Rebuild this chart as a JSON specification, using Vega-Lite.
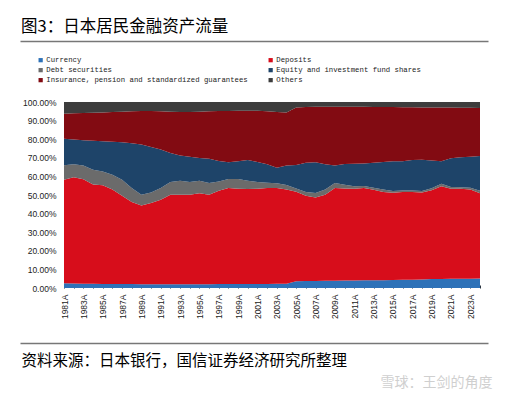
{
  "$schema": "https://vega.github.io/schema/vega-lite/v6.json",
  "width": 416,
  "height": 186,
  "autosize": {"type": "none"},
  "padding": {"left": 64, "top": 102, "right": 28, "bottom": 108},
  "background": "#ffffff",
  "config": {"view": {"stroke": null}, "axis": {"grid": false}},
  "title": {
    "text": "图3：日本居民金融资产流量",
    "anchor": "start",
    "frame": "group",
    "dx": -43,
    "offset": 6,
    "font": "Noto Sans CJK SC",
    "fontSize": 16.5,
    "fontWeight": "normal",
    "color": "#000000"
  },
  "datasets": {
    "assets": [
      {"year": 1981, "Currency": 2.5, "Deposits": 55.7, "Debt securities": 7.8, "Equity and investment fund shares": 14.3, "Insurance, pension and standardized guarantees": 13.4, "Others": 6.3},
      {"year": 1982, "Currency": 2.4, "Deposits": 57.1, "Debt securities": 7.0, "Equity and investment fund shares": 13.3, "Insurance, pension and standardized guarantees": 14.1, "Others": 6.1},
      {"year": 1983, "Currency": 2.3, "Deposits": 56.2, "Debt securities": 7.3, "Equity and investment fund shares": 13.6, "Insurance, pension and standardized guarantees": 14.7, "Others": 5.9},
      {"year": 1984, "Currency": 2.3, "Deposits": 53.3, "Debt securities": 8.0, "Equity and investment fund shares": 15.5, "Insurance, pension and standardized guarantees": 15.1, "Others": 5.8},
      {"year": 1985, "Currency": 2.2, "Deposits": 53.0, "Debt securities": 7.5, "Equity and investment fund shares": 16.2, "Insurance, pension and standardized guarantees": 15.5, "Others": 5.6},
      {"year": 1986, "Currency": 2.2, "Deposits": 50.7, "Debt securities": 8.0, "Equity and investment fund shares": 17.7, "Insurance, pension and standardized guarantees": 16.0, "Others": 5.4},
      {"year": 1987, "Currency": 2.1, "Deposits": 47.5, "Debt securities": 8.6, "Equity and investment fund shares": 20.1, "Insurance, pension and standardized guarantees": 16.5, "Others": 5.2},
      {"year": 1988, "Currency": 2.1, "Deposits": 44.1, "Debt securities": 7.6, "Equity and investment fund shares": 24.0, "Insurance, pension and standardized guarantees": 17.2, "Others": 5.0},
      {"year": 1989, "Currency": 2.0, "Deposits": 42.3, "Debt securities": 5.9, "Equity and investment fund shares": 26.9, "Insurance, pension and standardized guarantees": 18.1, "Others": 4.8},
      {"year": 1990, "Currency": 2.0, "Deposits": 43.7, "Debt securities": 5.7, "Equity and investment fund shares": 24.4, "Insurance, pension and standardized guarantees": 19.4, "Others": 4.8},
      {"year": 1991, "Currency": 2.0, "Deposits": 45.5, "Debt securities": 6.3, "Equity and investment fund shares": 20.6, "Insurance, pension and standardized guarantees": 20.6, "Others": 5.0},
      {"year": 1992, "Currency": 2.0, "Deposits": 48.2, "Debt securities": 6.8, "Equity and investment fund shares": 15.6, "Insurance, pension and standardized guarantees": 22.2, "Others": 5.2},
      {"year": 1993, "Currency": 2.0, "Deposits": 48.2, "Debt securities": 7.5, "Equity and investment fund shares": 13.6, "Insurance, pension and standardized guarantees": 23.3, "Others": 5.4},
      {"year": 1994, "Currency": 2.0, "Deposits": 48.2, "Debt securities": 6.8, "Equity and investment fund shares": 13.5, "Insurance, pension and standardized guarantees": 24.1, "Others": 5.4},
      {"year": 1995, "Currency": 2.0, "Deposits": 49.0, "Debt securities": 6.7, "Equity and investment fund shares": 12.2, "Insurance, pension and standardized guarantees": 24.9, "Others": 5.2},
      {"year": 1996, "Currency": 2.0, "Deposits": 48.2, "Debt securities": 6.3, "Equity and investment fund shares": 13.0, "Insurance, pension and standardized guarantees": 25.5, "Others": 5.0},
      {"year": 1997, "Currency": 2.1, "Deposits": 50.2, "Debt securities": 5.0, "Equity and investment fund shares": 11.0, "Insurance, pension and standardized guarantees": 26.8, "Others": 4.9},
      {"year": 1998, "Currency": 2.1, "Deposits": 51.7, "Debt securities": 4.8, "Equity and investment fund shares": 9.0, "Insurance, pension and standardized guarantees": 27.6, "Others": 4.8},
      {"year": 1999, "Currency": 2.1, "Deposits": 51.3, "Debt securities": 5.2, "Equity and investment fund shares": 9.5, "Insurance, pension and standardized guarantees": 27.2, "Others": 4.7},
      {"year": 2000, "Currency": 2.2, "Deposits": 51.0, "Debt securities": 4.5, "Equity and investment fund shares": 11.1, "Insurance, pension and standardized guarantees": 26.5, "Others": 4.7},
      {"year": 2001, "Currency": 2.2, "Deposits": 51.2, "Debt securities": 3.6, "Equity and investment fund shares": 10.7, "Insurance, pension and standardized guarantees": 27.6, "Others": 4.7},
      {"year": 2002, "Currency": 2.2, "Deposits": 51.6, "Debt securities": 2.8, "Equity and investment fund shares": 9.9, "Insurance, pension and standardized guarantees": 28.5, "Others": 5.0},
      {"year": 2003, "Currency": 2.3, "Deposits": 51.5, "Debt securities": 2.5, "Equity and investment fund shares": 8.4, "Insurance, pension and standardized guarantees": 29.9, "Others": 5.4},
      {"year": 2004, "Currency": 2.3, "Deposits": 50.7, "Debt securities": 2.4, "Equity and investment fund shares": 10.4, "Insurance, pension and standardized guarantees": 28.6, "Others": 5.6},
      {"year": 2005, "Currency": 3.6, "Deposits": 48.2, "Debt securities": 1.7, "Equity and investment fund shares": 12.6, "Insurance, pension and standardized guarantees": 31.0, "Others": 2.9},
      {"year": 2006, "Currency": 3.7, "Deposits": 45.9, "Debt securities": 2.0, "Equity and investment fund shares": 15.7, "Insurance, pension and standardized guarantees": 30.0, "Others": 2.7},
      {"year": 2007, "Currency": 3.8, "Deposits": 44.8, "Debt securities": 2.5, "Equity and investment fund shares": 16.5, "Insurance, pension and standardized guarantees": 29.8, "Others": 2.6},
      {"year": 2008, "Currency": 3.9, "Deposits": 46.3, "Debt securities": 2.8, "Equity and investment fund shares": 13.5, "Insurance, pension and standardized guarantees": 31.0, "Others": 2.5},
      {"year": 2009, "Currency": 3.9, "Deposits": 49.9, "Debt securities": 2.7, "Equity and investment fund shares": 9.4, "Insurance, pension and standardized guarantees": 31.6, "Others": 2.5},
      {"year": 2010, "Currency": 4.0, "Deposits": 49.5, "Debt securities": 2.0, "Equity and investment fund shares": 11.2, "Insurance, pension and standardized guarantees": 30.7, "Others": 2.6},
      {"year": 2011, "Currency": 4.0, "Deposits": 49.4, "Debt securities": 1.3, "Equity and investment fund shares": 12.1, "Insurance, pension and standardized guarantees": 30.6, "Others": 2.6},
      {"year": 2012, "Currency": 4.1, "Deposits": 49.7, "Debt securities": 1.0, "Equity and investment fund shares": 12.2, "Insurance, pension and standardized guarantees": 30.4, "Others": 2.6},
      {"year": 2013, "Currency": 4.1, "Deposits": 48.7, "Debt securities": 1.1, "Equity and investment fund shares": 13.5, "Insurance, pension and standardized guarantees": 29.9, "Others": 2.7},
      {"year": 2014, "Currency": 4.2, "Deposits": 47.4, "Debt securities": 1.3, "Equity and investment fund shares": 14.8, "Insurance, pension and standardized guarantees": 29.6, "Others": 2.7},
      {"year": 2015, "Currency": 4.3, "Deposits": 46.9, "Debt securities": 0.9, "Equity and investment fund shares": 16.0, "Insurance, pension and standardized guarantees": 29.2, "Others": 2.7},
      {"year": 2016, "Currency": 4.4, "Deposits": 47.2, "Debt securities": 0.8, "Equity and investment fund shares": 15.8, "Insurance, pension and standardized guarantees": 29.0, "Others": 2.8},
      {"year": 2017, "Currency": 4.5, "Deposits": 47.1, "Debt securities": 0.8, "Equity and investment fund shares": 16.4, "Insurance, pension and standardized guarantees": 28.4, "Others": 2.8},
      {"year": 2018, "Currency": 4.6, "Deposits": 46.8, "Debt securities": 0.8, "Equity and investment fund shares": 16.7, "Insurance, pension and standardized guarantees": 28.2, "Others": 2.9},
      {"year": 2019, "Currency": 4.8, "Deposits": 47.8, "Debt securities": 1.0, "Equity and investment fund shares": 14.9, "Insurance, pension and standardized guarantees": 28.6, "Others": 2.9},
      {"year": 2020, "Currency": 4.9, "Deposits": 49.8, "Debt securities": 1.3, "Equity and investment fund shares": 12.1, "Insurance, pension and standardized guarantees": 28.9, "Others": 3.0},
      {"year": 2021, "Currency": 5.0, "Deposits": 48.4, "Debt securities": 0.9, "Equity and investment fund shares": 15.4, "Insurance, pension and standardized guarantees": 27.3, "Others": 3.0},
      {"year": 2022, "Currency": 5.0, "Deposits": 48.4, "Debt securities": 0.8, "Equity and investment fund shares": 16.1, "Insurance, pension and standardized guarantees": 26.6, "Others": 3.1},
      {"year": 2023, "Currency": 5.0, "Deposits": 48.0, "Debt securities": 0.9, "Equity and investment fund shares": 16.7, "Insurance, pension and standardized guarantees": 26.3, "Others": 3.1},
      {"year": 2024, "Currency": 5.1, "Deposits": 45.9, "Debt securities": 1.3, "Equity and investment fund shares": 18.7, "Insurance, pension and standardized guarantees": 25.8, "Others": 3.2}
    ]
  },
  "layer": [
    {
      "data": {"name": "assets"},
      "transform": [
        {"fold": ["Currency", "Deposits", "Debt securities", "Equity and investment fund shares", "Insurance, pension and standardized guarantees", "Others"], "as": ["type", "share"]},
        {"window": [{"op": "row_number", "as": "k"}], "groupby": ["year"]}
      ],
      "mark": {"type": "area", "interpolate": "linear"},
      "encoding": {
        "x": {
          "field": "year",
          "type": "ordinal",
          "scale": {"type": "point", "padding": 0},
          "axis": {
            "orient": "bottom",
            "domain": false,
            "ticks": true,
            "tickSize": -3,
            "tickColor": "#2a3440",
            "tickWidth": 1,
            "labelAngle": -90,
            "labelFont": "Liberation Sans",
            "labelFontSize": 8.5,
            "labelColor": "#222222",
            "labelPadding": 9,
            "labelOverlap": false,
            "labelExpr": "datum.value % 2 == 1 ? datum.value + 'A' : ''",
            "title": "资料来源：日本银行，国信证券经济研究所整理",
            "titleX": -43,
            "titleY": 72,
            "titleAlign": "left",
            "titleBaseline": "middle",
            "titleFont": "Noto Sans CJK SC",
            "titleFontSize": 15.5,
            "titleFontWeight": "normal",
            "titleColor": "#000000"
          }
        },
        "y": {
          "field": "share",
          "type": "quantitative",
          "stack": "normalize",
          "scale": {"domain": [0, 1]},
          "axis": {
            "values": [0, 0.1, 0.2, 0.3, 0.4, 0.5, 0.6, 0.7, 0.8, 0.9, 1],
            "labelExpr": "format(datum.value, '.2%')",
            "domain": false,
            "ticks": false,
            "labelFont": "Liberation Sans",
            "labelFontSize": 8.5,
            "labelColor": "#222222",
            "labelPadding": 8,
            "title": "雪球：王剑的角度",
            "titleAngle": 0,
            "titleX": 316,
            "titleY": 280,
            "titleAlign": "left",
            "titleBaseline": "middle",
            "titleFont": "Noto Sans CJK SC",
            "titleFontSize": 14,
            "titleFontWeight": "normal",
            "titleColor": "#cfcfcf"
          }
        },
        "color": {
          "field": "type",
          "type": "nominal",
          "scale": {
            "domain": ["Currency", "Deposits", "Debt securities", "Equity and investment fund shares", "Insurance, pension and standardized guarantees", "Others"],
            "range": ["#2e72b8", "#d70d1b", "#6b6b6b", "#1e4469", "#820b12", "#3d3d3d"]
          },
          "legend": {
            "orient": "none",
            "legendX": -27,
            "legendY": -45.5,
            "columns": 2,
            "direction": "horizontal",
            "title": null,
            "padding": 0,
            "symbolType": "square",
            "symbolSize": 18,
            "symbolStrokeWidth": 0,
            "labelFont": "Liberation Mono",
            "labelFontSize": 7.3,
            "labelColor": "#222222",
            "labelOffset": 2,
            "columnPadding": 19,
            "rowPadding": 2,
            "labelLimit": 400
          }
        },
        "order": {"field": "k", "type": "quantitative"}
      }
    },
    {
      "data": {"values": [{}]},
      "mark": {"type": "rule", "opacity": 0},
      "encoding": {
        "x": {
          "datum": 0,
          "type": "quantitative",
          "scale": {"domain": [0, 1], "range": [-44, 424]},
          "axis": {"orient": "top", "offset": 61, "domainColor": "#777777", "domainWidth": 1.6, "labels": false, "ticks": false, "grid": false, "title": null}
        }
      }
    },
    {
      "data": {"values": [{}]},
      "mark": {"type": "rule", "opacity": 0},
      "encoding": {
        "x": {
          "datum": 0,
          "type": "quantitative",
          "scale": {"domain": [0, 1], "range": [-44, 424]},
          "axis": {"orient": "bottom", "offset": 55, "domainColor": "#777777", "domainWidth": 1.6, "labels": false, "ticks": false, "grid": false, "title": null}
        }
      }
    }
  ],
  "resolve": {"scale": {"x": "independent"}, "axis": {"x": "independent"}}
}
